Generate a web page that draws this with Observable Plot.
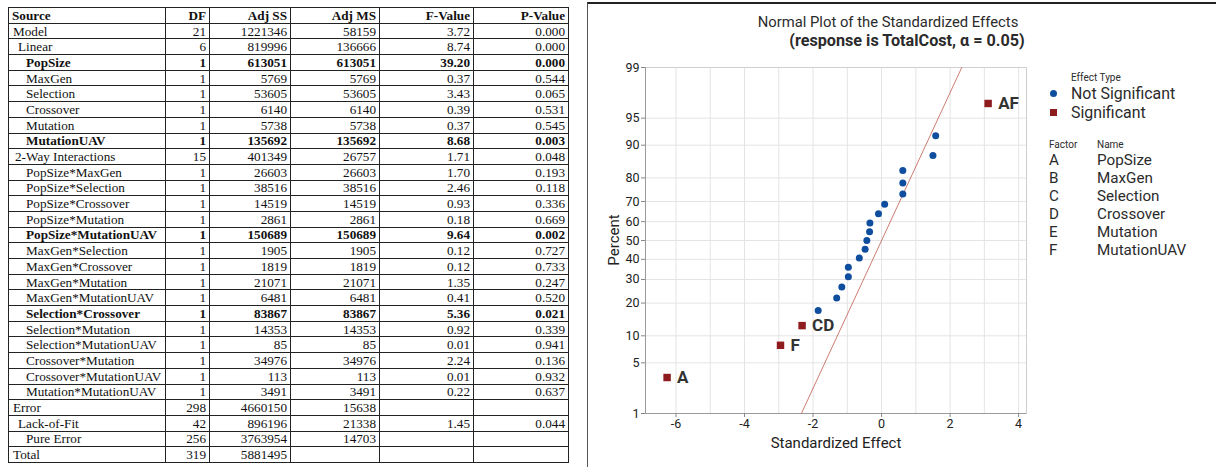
<!DOCTYPE html>
<html>
<head>
<meta charset="utf-8">
<script src="https://cdn.jsdelivr.net/npm/d3@7"></script>
<script src="https://cdn.jsdelivr.net/npm/@observablehq/plot@0.6"></script>
<style>
  html, body { margin: 0; padding: 0; background: #fff; }
  #root { position: relative; width: 1216px; height: 467px; overflow: hidden; background: #fff; }
  #anova { position: absolute; left: 8px; top: 7px; border-collapse: collapse; table-layout: fixed;
           font-family: "Liberation Serif", "Times New Roman", serif; font-size: 13.2px; color: #111;
           border: 1.5px solid #111; }
  #anova td, #anova th { border: 1px solid #222; height: 15.7px; padding: 0 3px; line-height: 13px;
           box-sizing: border-box; white-space: nowrap; overflow: hidden; }
  #anova th { font-weight: bold; }
  #anova td.num, #anova th.num { text-align: right; }
  #anova td.src, #anova th.src { text-align: left; }
  #anova tr.b td { font-weight: bold; }
  #panel { position: absolute; left: 587px; top: 2px; width: 628px; height: 463px;
           border-top: 2px solid #222; border-left: 1px solid #555; border-bottom: 1px solid #ccc; border-right: 1px solid #ccc; }
  .t { position: absolute; font-family: Roboto, "Noto Sans", sans-serif; color: #2b2b2b; white-space: nowrap; line-height: 1; }
  #plot { position: absolute; left: 590px; top: 0px; }
</style>
</head>
<body>
<div id="root">
  <table id="anova"></table>
  <div id="panel"></div>
  <div id="plot"></div>
</div>
<script>
// ---------- ANOVA table data ----------
const sources = ["Model","Linear","PopSize","MaxGen","Selection","Crossover","Mutation","MutationUAV",
  "2-Way Interactions","PopSize*MaxGen","PopSize*Selection","PopSize*Crossover","PopSize*Mutation",
  "PopSize*MutationUAV","MaxGen*Selection","MaxGen*Crossover","MaxGen*Mutation","MaxGen*MutationUAV",
  "Selection*Crossover","Selection*Mutation","Selection*MutationUAV","Crossover*Mutation",
  "Crossover*MutationUAV","Mutation*MutationUAV","Error","Lack-of-Fit","Pure Error","Total"];
const indentLevel = [0,1,2,2,2,2,2,2,1,2,2,2,2,2,2,2,2,2,2,2,2,2,2,2,0,1,2,0];
const dfValues = ["21","6","1","1","1","1","1","1","15","1","1","1","1","1","1","1","1","1","1","1","1","1","1","1","298","42","256","319"];
const adjSS = ["1221346","819996","613051","5769","53605","6140","5738","135692","401349","26603","38516","14519","2861","150689","1905","1819","21071","6481","83867","14353","85","34976","113","3491","4660150","896196","3763954","5881495"];
const adjMS = ["58159","136666","613051","5769","53605","6140","5738","135692","26757","26603","38516","14519","2861","150689","1905","1819","21071","6481","83867","14353","85","34976","113","3491","15638","21338","14703",""];
const fValues = ["3.72","8.74","39.20","0.37","3.43","0.39","0.37","8.68","1.71","1.70","2.46","0.93","0.18","9.64","0.12","0.12","1.35","0.41","5.36","0.92","0.01","2.24","0.01","0.22","","1.45","",""];
const pValues = ["0.000","0.000","0.000","0.544","0.065","0.531","0.545","0.003","0.048","0.193","0.118","0.336","0.669","0.002","0.727","0.733","0.247","0.520","0.021","0.339","0.941","0.136","0.932","0.637","","0.044","",""];
const boldRows = ["PopSize","MutationUAV","PopSize*MutationUAV","Selection*Crossover"];
const headers = ["Source","DF","Adj SS","Adj MS","F-Value","P-Value"];
const colWidths = [157, 44, 81, 89, 94, 95];

// ---------- Normal plot data ----------
const effectTerms = ["A","F","CD","C","AB","BE","AD","CE","BF","EF","AE","BC","BD","CF","DF","B","E","D","DE","AC","AF"];
const effectValues = [-6.26,-2.95,-2.32,-1.85,-1.31,-1.16,-0.97,-0.97,-0.65,-0.48,-0.43,-0.35,-0.34,-0.09,0.09,0.62,0.62,0.62,1.50,1.58,3.11];
const effectPercents = [3.27,7.94,12.62,17.29,21.96,26.64,31.31,35.98,40.65,45.33,50.00,54.67,59.35,64.02,68.69,73.36,78.04,82.71,87.38,92.06,96.73];
const effectSignificant = [true,true,true,false,false,false,false,false,false,false,false,false,false,false,false,false,false,false,false,false,true];
const refEffect = [-2.34, 2.34];
const refPercent = [1, 99];
const percentTicks = [1,5,10,20,30,40,50,60,70,80,90,95,99];
const effectTicks = [-6,-4,-2,0,2,4];
const effectGrid = [-6,-5,-4,-3,-2,-1,0,1,2,3,4];
const factorLetters = ["A","B","C","D","E","F"];
const factorNames = ["PopSize","MaxGen","Selection","Crossover","Mutation","MutationUAV"];

// ---------- build table ----------
const table = document.getElementById("anova");
const cg = document.createElement("colgroup");
colWidths.forEach(w => { const c = document.createElement("col"); c.style.width = w + "px"; cg.appendChild(c); });
table.appendChild(cg);
table.style.width = d3.sum(colWidths) + "px";
const hr = document.createElement("tr");
headers.forEach((h, i) => { const th = document.createElement("th"); th.textContent = h; th.className = i === 0 ? "src" : "num"; hr.appendChild(th); });
table.appendChild(hr);
const padFor = (lvl, name) => name === "2-Way Interactions" ? 6 : [4, 9, 17][lvl];
sources.forEach((s, i) => {
  const tr = document.createElement("tr");
  if (boldRows.includes(s)) tr.className = "b";
  const cells = [s, dfValues[i], adjSS[i], adjMS[i], fValues[i], pValues[i]];
  cells.forEach((v, j) => {
    const td = document.createElement("td");
    td.textContent = v;
    td.className = j === 0 ? "src" : "num";
    if (j === 0) td.style.paddingLeft = padFor(indentLevel[i], s) + "px";
    tr.appendChild(td);
  });
  table.appendChild(tr);
});

// ---------- probit ----------
function probit(p) {
  const a = [-3.969683028665376e+01, 2.209460984245205e+02, -2.759285104469687e+02, 1.383577518672690e+02, -3.066479806614716e+01, 2.506628277459239e+00];
  const b = [-5.447609879822406e+01, 1.615858368580409e+02, -1.556989798598866e+02, 6.680131188771972e+01, -1.328068155288572e+01];
  const c = [-7.784894002430293e-03, -3.223964580411365e-01, -2.400758277161838e+00, -2.549732539343734e+00, 4.374664141464968e+00, 2.938163982698783e+00];
  const d = [7.784695709041462e-03, 3.224671290700398e-01, 2.445134137142996e+00, 3.754408661907416e+00];
  const plow = 0.02425;
  if (p < plow) {
    const q = Math.sqrt(-2 * Math.log(p));
    return (((((c[0]*q+c[1])*q+c[2])*q+c[3])*q+c[4])*q+c[5]) / ((((d[0]*q+d[1])*q+d[2])*q+d[3])*q+1);
  } else if (p > 1 - plow) {
    const q = Math.sqrt(-2 * Math.log(1 - p));
    return -(((((c[0]*q+c[1])*q+c[2])*q+c[3])*q+c[4])*q+c[5]) / ((((d[0]*q+d[1])*q+d[2])*q+d[3])*q+1);
  } else {
    const q = p - 0.5, r = q * q;
    return (((((a[0]*r+a[1])*r+a[2])*r+a[3])*r+a[4])*r+a[5])*q / (((((b[0]*r+b[1])*r+b[2])*r+b[3])*r+b[4])*r+1);
  }
}
const z = pct => probit(pct / 100);

const effects = effectTerms.map((t, i) => ({ term: t, effect: effectValues[i], pct: effectPercents[i], sig: effectSignificant[i] }));
const refLine = refEffect.map((e, i) => ({ effect: e, pct: refPercent[i] }));
const zTicks = percentTicks.map(z);
const zLabel = new Map(percentTicks.map(p => [z(p), String(p)]));

const chart = Plot.plot({
  width: 440, height: 467,
  marginLeft: 55, marginRight: 4, marginTop: 67, marginBottom: 54,
  style: { fontFamily: "Roboto, Noto Sans, sans-serif", fontSize: "12.5px", color: "#222", background: "transparent", overflow: "visible" },
  x: { domain: [-6.89, 4.23] },
  y: { domain: [z(1), z(99)] },
  marks: [
    Plot.gridX(effectGrid, { stroke: "#e4e4e4", strokeOpacity: 1 }),
    Plot.gridY(zTicks, { stroke: "#e4e4e4", strokeOpacity: 1 }),
    Plot.frame({ stroke: "#cfcfcf" }),
    Plot.ruleX([-6.89], { stroke: "#9a9a9a" }),
    Plot.ruleY([z(1)], { stroke: "#9a9a9a" }),
    Plot.axisX(effectTicks, { tickSize: 4, tickPadding: 2, label: null, stroke: "#888", fill: "#222",
      tickFormat: d => (d < 0 ? "-" + Math.abs(d) : String(d)) }),
    Plot.axisY(zTicks, { tickSize: 4, tickPadding: 2, label: null, tickFormat: d => zLabel.get(d), stroke: "#888", fill: "#222" }),
    Plot.line(refLine, { x: "effect", y: d => z(d.pct), stroke: "#bf5a4e", strokeWidth: 0.8 }),
    Plot.dot(effects.filter(d => !d.sig), { x: "effect", y: d => z(d.pct), r: 3.5, fill: "#0f4e9e", stroke: "none" }),
    Plot.dot(effects.filter(d => d.sig), { x: "effect", y: d => z(d.pct), r: 4.2, symbol: "square", fill: "#8e1b1e", stroke: "none" }),
    Plot.text(effects.filter(d => d.sig), { x: "effect", y: d => z(d.pct), text: "term", dx: 10, textAnchor: "start",
      fontWeight: "bold", fontSize: 17, fill: "#333" })
  ]
});
document.getElementById("plot").appendChild(chart);

// ---------- titles, axis labels, legend (HTML text) ----------
const root = document.getElementById("root");
function addText(txt, x, y, opts = {}) {
  const el = document.createElement("div");
  el.className = "t";
  el.textContent = txt;
  el.style.left = x + "px";
  el.style.top = y + "px";
  el.style.fontSize = (opts.size || 14) + "px";
  if (opts.bold) el.style.fontWeight = "bold";
  if (opts.color) el.style.color = opts.color;
  let tr = "";
  if (opts.center) tr += "translateX(-50%) ";
  tr += "translateY(-50%) ";
  if (opts.rotate) tr += "rotate(" + opts.rotate + "deg)";
  el.style.transform = tr;
  root.appendChild(el);
  return el;
}
addText("Normal Plot of the Standardized Effects", 888, 22, { size: 14.8, center: true });
addText("(response is TotalCost, \u03b1 = 0.05)", 907, 40.8, { size: 16.2, bold: true, center: true });
addText("Percent", 614, 240, { size: 15, center: true, rotate: -90, color: "#222" });
addText("Standardized Effect", 836, 443, { size: 15, center: true, color: "#222" });

addText("Effect Type", 1071, 78, { size: 10 });
addText("Not Significant", 1071, 94, { size: 15.9 });
addText("Significant", 1071, 113, { size: 15.9 });
const dotEl = document.createElement("div");
Object.assign(dotEl.style, { position: "absolute", left: "1050px", top: "90px", width: "7px", height: "7px", borderRadius: "50%", background: "#0f4e9e" });
root.appendChild(dotEl);
const sqEl = document.createElement("div");
Object.assign(sqEl.style, { position: "absolute", left: "1050px", top: "109px", width: "7px", height: "7px", background: "#8e1b1e" });
root.appendChild(sqEl);
addText("Factor", 1049, 145, { size: 10 });
addText("Name", 1097, 145, { size: 10 });
factorLetters.forEach((f, i) => {
  addText(f, 1049, 161 + i * 17.9, { size: 15.2 });
  addText(factorNames[i], 1097, 161 + i * 17.9, { size: 15.2 });
});
</script>
</body>
</html>
